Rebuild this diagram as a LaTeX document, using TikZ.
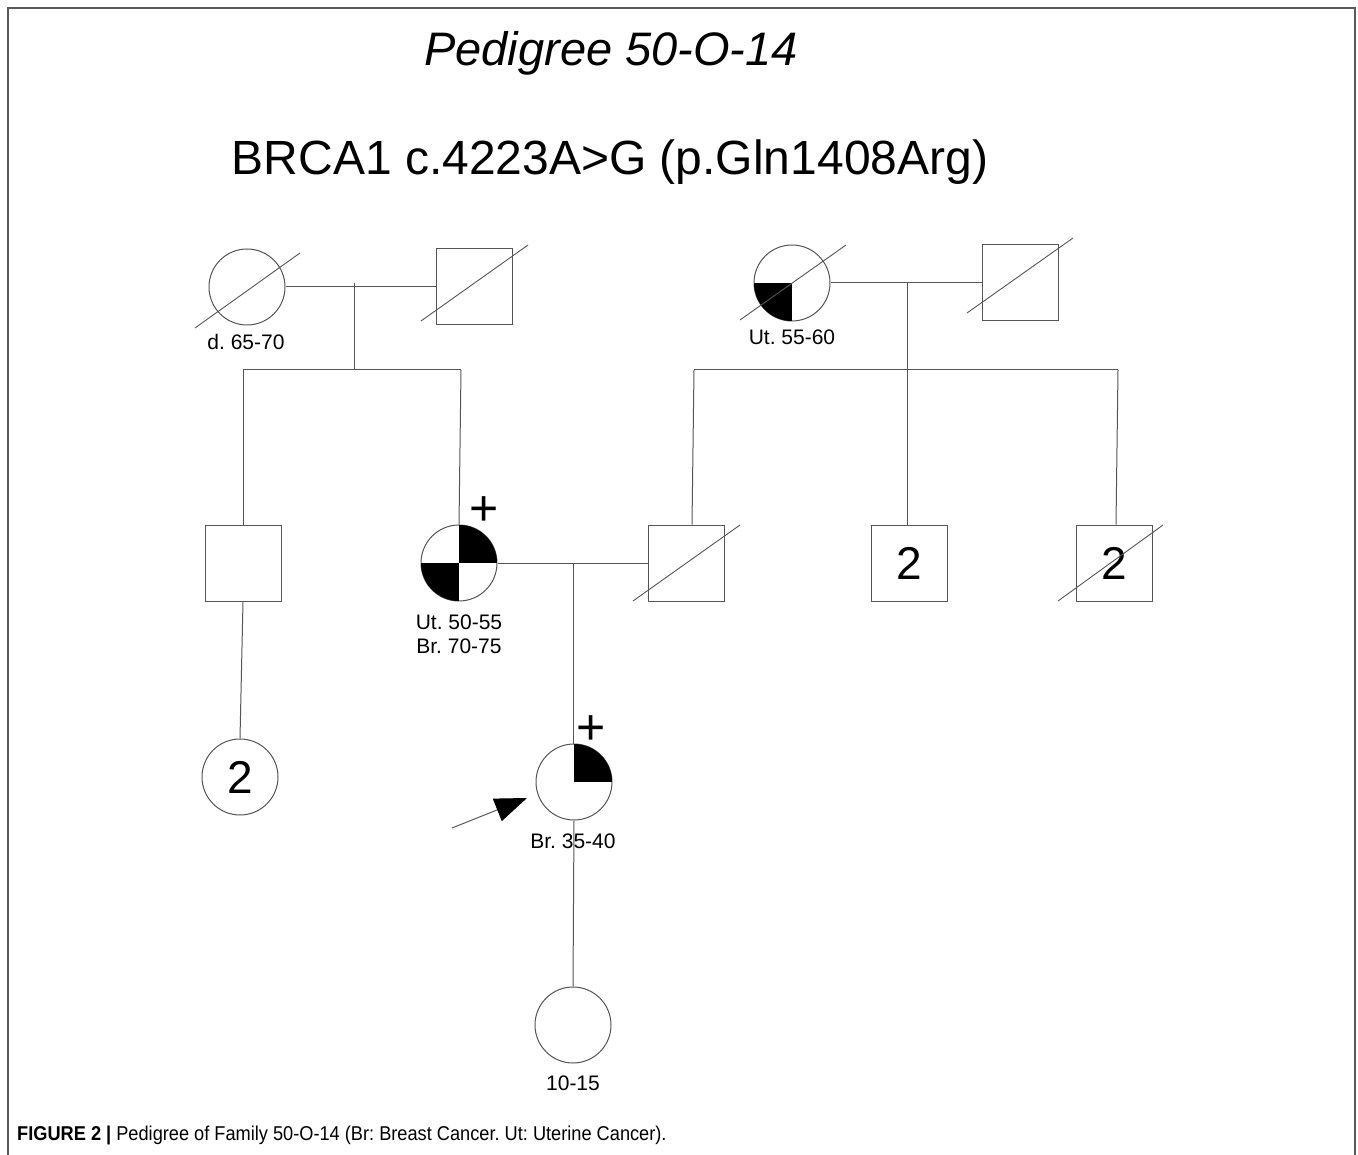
\documentclass[tikz,border=0pt]{standalone}
\usepackage{fontspec}
\setmainfont{Liberation Sans}
\usetikzlibrary{arrows.meta}
\definecolor{ln}{RGB}{85,85,85}
\definecolor{bd}{RGB}{90,90,90}
\frenchspacing
\begin{document}
\begin{tikzpicture}[x=1pt,y=-1pt,
  fem/.style={circle, draw=ln, line width=1pt, minimum size=76pt, inner sep=0pt},
  male/.style={rectangle, draw=ln, line width=1pt, minimum size=76pt, inner sep=0pt},
  conn/.style={draw=ln, line width=1pt},
  slash/.style={draw=ln, line width=0.9pt},
  lbl/.style={font=\fontsize{21}{24}\selectfont, inner sep=0pt},
  num/.style={font=\fontsize{46}{50}\selectfont},
  plussign/.style={font=\fontsize{50}{54}\selectfont, inner sep=0pt},
  border/.style={draw=bd, line width=2pt}
]
\useasboundingbox (0,0) rectangle (1358,1155);
\draw[border] (8,1160) -- (8,8.5) -- (1355,8.5) -- (1355,1160);

% titles
\node[font=\itshape\fontsize{47}{52}\selectfont, anchor=base] (title) at (611,66) {Pedigree 50-O-14};
\node[font=\fontsize{48}{54}\selectfont, anchor=base] (gene) at (610,175) {BRCA1 c.4223A>G (p.Gln1408Arg)};

% generation I, left couple
\node[fem] (gmL) at (247,287) {};
\node[male] (gfL) at (474,287) {};
\draw[slash] ([shift={(-52,41)}]gmL.center) -- ([shift={(53,-34)}]gmL.center);
\draw[slash] ([shift={(-53,34)}]gfL.center) -- ([shift={(54,-42)}]gfL.center);
\node[lbl] (lgmL) at (246,342) {d. 65-70};

% generation I, right couple
\node[fem] (gmR) at (792,283) {};
\begin{scope}
  \clip (792,283) circle[radius=38];
  \fill[black] (gmR.center) rectangle ++(-40,40);
\end{scope}
\node[male] (gfR) at (1020,283) {};
\draw[slash] ([shift={(-52,37)}]gmR.center) -- ([shift={(54,-38)}]gmR.center);
\draw[slash] ([shift={(-53,30)}]gfR.center) -- ([shift={(53,-45)}]gfR.center);
\node[lbl] (lgmR) at (792,337) {Ut. 55-60};

% generation II
\node[male] (uncle) at (243,563) {};
\node[fem] (mother) at (459,563) {};
\begin{scope}
  \clip (459,563) circle[radius=38];
  \fill[black] (mother.center) rectangle ++(40,-40);
  \fill[black] (mother.center) rectangle ++(-40,40);
\end{scope}
\node[plussign] (pm) at (484,511) {+};
\node[lbl] (lm1) at (459,622) {Ut. 50-55};
\node[lbl] (lm2) at (459,646) {Br. 70-75};
\node[male] (father) at (686,563) {};
\draw[slash] ([shift={(-53,38)}]father.center) -- ([shift={(54,-38)}]father.center);
\node[male, num] (bro2) at (909,563) {2};
\node[male, num] (bro2d) at (1114,563) {2};
\draw[slash] ([shift={(-56,38)}]bro2d.center) -- ([shift={(49,-38)}]bro2d.center);

% generation III
\node[fem, num] (cous) at (240,777) {2};
\node[fem] (proband) at (574,782) {};
\begin{scope}
  \clip (574,782) circle[radius=38];
  \fill[black] (proband.center) rectangle ++(40,-40);
\end{scope}
\node[plussign] (pp) at (591,730) {+};

% generation IV
\node[fem] (daughter) at (573,1025) {};
\node[lbl] (ld) at (573,1083) {10-15};

% connectors, left family
\draw[conn] (gmL) -- (gfL);
\coordinate (mL) at (354,283);
\coordinate (sLa) at (243,370);
\coordinate (sLb) at (461,370);
\draw[conn] (mL) -- (mL |- sLa);
\draw[conn] (sLa) -- (sLb);
\draw[conn] (sLa) -- (uncle.north);
\draw[conn] (sLb) -- (mother.north);
\draw[conn] (uncle.south) -- (cous.north);

% connectors, right family
\draw[conn] (gmR) -- (gfR);
\coordinate (mR) at (907,283);
\coordinate (sRa) at (694,370);
\coordinate (sRb) at (907,370);
\coordinate (sRc) at (1118,370);
\draw[conn] (mR) -- (sRb);
\draw[conn] (sRa) -- (sRc);
\draw[conn] (sRa) -- ([xshift=6pt]father.north);
\draw[conn] (sRb) -- (sRb |- bro2.north);
\draw[conn] (sRc) -- ([xshift=2pt]bro2d.north);

% parents of proband
\draw[conn] (mother) -- (father);
\coordinate (mP) at (573,563);
\draw[conn] (mP) -- (mP |- proband.north);
\draw[conn] (proband.south) -- (daughter.north);
\node[lbl] (lp) at (573,841) {Br. 35-40};

% proband arrow
\coordinate (arS) at (452,828);
\coordinate (arT) at (527,798);
\draw[conn, -{Triangle[length=32pt, width=24pt, color=black, fill=black]}] (arS) -- (arT);

% caption
\node[anchor=base west, inner sep=0pt, font=\fontsize{20}{22}\selectfont] (cap) at (17,1140) {\scalebox{0.91}[1]{\textbf{FIGURE 2 |} Pedigree of Family 50-O-14 (Br: Breast Cancer. Ut: Uterine Cancer).}};
\end{tikzpicture}
\end{document}
